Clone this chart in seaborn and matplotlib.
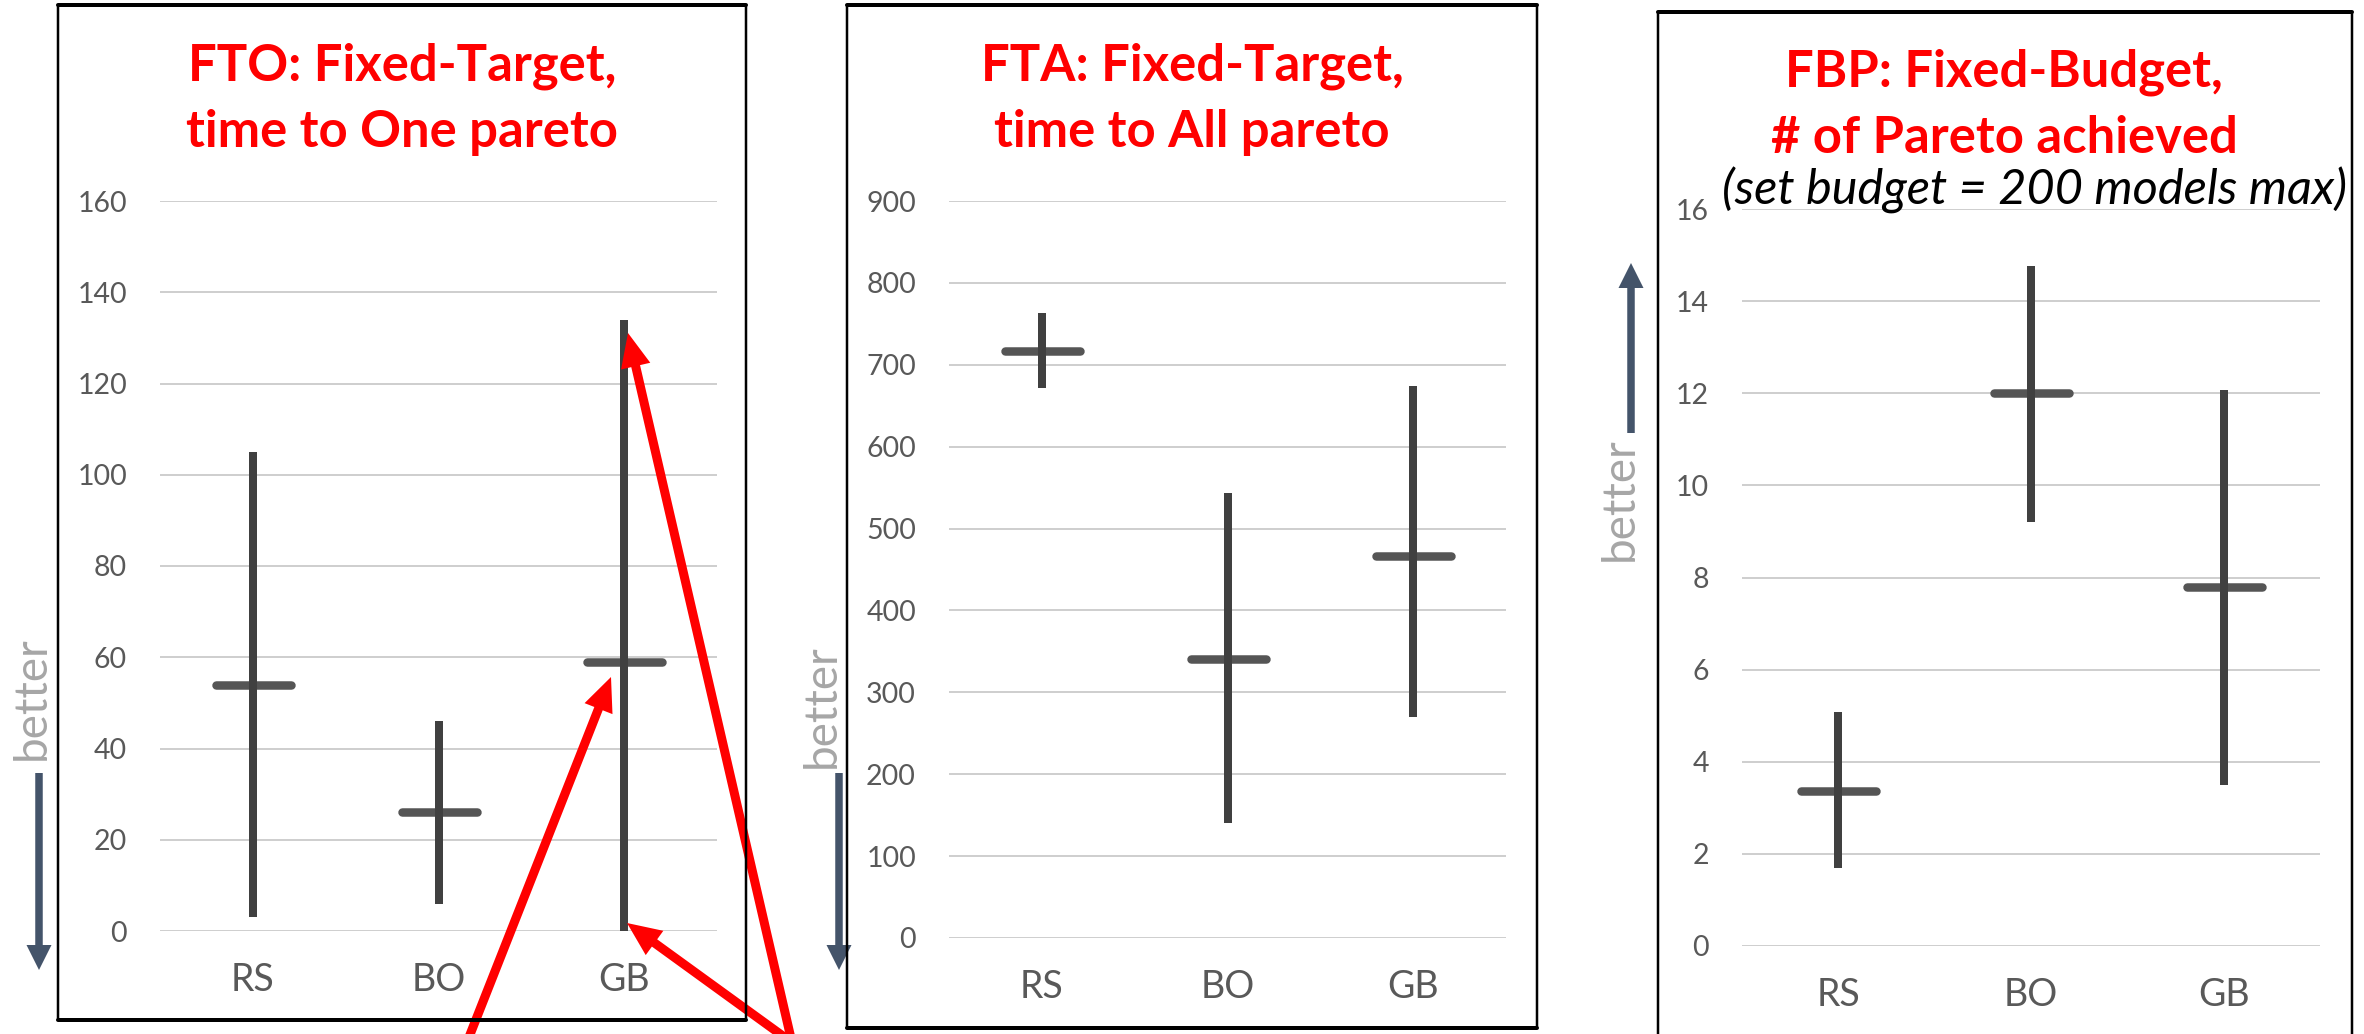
import matplotlib
matplotlib.use("Agg")
import matplotlib.pyplot as plt
import seaborn as sns
import pandas as pd
import numpy as np
from matplotlib.markers import MarkerStyle
from matplotlib.patches import FancyArrow
from matplotlib.lines import Line2D

W, H, DPI = 2364, 1034, 100
PT = 72 / DPI  # points per pixel

# ---- data -------------------------------------------------------------
methods = ["RS", "BO", "GB"]

# FTO: time to first Pareto model (min / median / max)
fto_low = [3, 6, 0]
fto_med = [54, 26, 59]
fto_high = [105, 46, 134]
fto_ticks = [0, 20, 40, 60, 80, 100, 120, 140, 160]

# FTA: time to all Pareto models
fta_low = [672, 141, 270]
fta_med = [717, 341, 467]
fta_high = [763, 544, 674]
fta_ticks = [0, 100, 200, 300, 400, 500, 600, 700, 800, 900]

# FBP: number of Pareto models found within the budget
fbp_low = [1.7, 9.2, 3.5]
fbp_med = [3.37, 12.0, 7.8]
fbp_high = [5.07, 14.77, 12.07]
fbp_ticks = [0, 2, 4, 6, 8, 10, 12, 14, 16]

titles = [
    ["FTO: Fixed-Target,", "time to One pareto"],
    ["FTA: Fixed-Target,", "time to All pareto"],
    ["FBP: Fixed-Budget,", "# of Pareto achieved"],
]
subtitle = "(set budget = 200 models max)"
better_label = "better"

# ---- style ------------------------------------------------------------
sns.set_theme(style="white")
plt.rcParams["font.family"] = ["Lato", "DejaVu Sans"]

fig = plt.figure(figsize=(W / DPI, H / DPI), dpi=DPI)
fig.patch.set_facecolor("white")


def px_axes(left, right, top, bottom):
    return fig.add_axes([left / W, 1 - bottom / H, (right - left) / W, (bottom - top) / H])


BAR = "#404040"
MED = "#555555"
GRID = "#cfcfcf"
TICK = "#595959"


def draw_panel(ax, low, med, high, ticks):
    df = pd.DataFrame({
        "method": np.repeat(methods, 3),
        "value": np.column_stack([low, med, high]).ravel(),
    })
    sns.pointplot(
        data=df, x="method", y="value", order=methods,
        estimator="median", errorbar=("pi", 100),
        linestyle="none", marker=MarkerStyle("_", capstyle="round"),
        markersize=54, markeredgewidth=8.5 * PT, color=MED,
        err_kws={"color": BAR, "linewidth": 8 * PT, "solid_capstyle": "butt"},
        ax=ax,
    )
    for ln in ax.lines:
        ln.set_clip_on(False)
    ax.set_ylim(ticks[0], ticks[-1])
    ax.set_yticks(ticks)
    ax.set_xlim(-0.5, 2.5)
    ax.set_xlabel("")
    ax.set_ylabel("")
    ax.yaxis.grid(True, color=GRID, linewidth=2 * PT, zorder=0)
    ax.xaxis.grid(False)
    ax.set_axisbelow(True)
    for s in ax.spines.values():
        s.set_visible(False)
    ax.set_facecolor("none")
    ax.tick_params(axis="y", length=0, pad=33 * PT, labelsize=20.5, labelcolor=TICK)
    ax.tick_params(axis="x", length=0, pad=22, labelsize=27, labelcolor=TICK)


ax1 = px_axes(160, 717, 201, 931)
draw_panel(ax1, fto_low, fto_med, fto_high, fto_ticks)
ax2 = px_axes(949, 1506, 201, 938)
draw_panel(ax2, fta_low, fta_med, fta_high, fta_ticks)
ax3 = px_axes(1742, 2320, 209, 946)
draw_panel(ax3, fbp_low, fbp_med, fbp_high, fbp_ticks)

# ---- overlay in pixel coordinates -------------------------------------
ov = fig.add_axes([0, 0, 1, 1], zorder=10)
ov.set_xlim(0, W)
ov.set_ylim(H, 0)
ov.axis("off")
ov.patch.set_alpha(0)


def frame(x0, x1, y0, y1, bottom=True):
    side = 2.5 * PT
    tb = 4 * PT
    ov.add_line(Line2D([x0, x0], [y0, y1], color="black", lw=side))
    ov.add_line(Line2D([x1, x1], [y0, y1], color="black", lw=side))
    ov.add_line(Line2D([x0, x1], [y0, y0], color="black", lw=tb))
    if bottom:
        ov.add_line(Line2D([x0, x1], [y1, y1], color="black", lw=tb))


frame(58, 746, 5, 1020)
frame(847, 1537, 5, 1028)
frame(1658, 2352, 12, 1060, bottom=False)

# titles
title_pos = [(402, 80, 147), (1192, 80, 147), (2004, 87, 153)]
for (cx, b1, b2), lines in zip(title_pos, titles):
    for base, line in zip((b1, b2), lines):
        ov.text(cx, base, line, color="#ff0000", fontsize=36.5, fontweight="bold",
                ha="center", va="baseline")
ov.text(2034, 205, subtitle, color="black", fontsize=35, style="italic",
        ha="center", va="baseline")

# "better" direction hints
ARROW = "#44546a"
for tx, ty, x, y0, y1 in [(32, 698, 39, 773, 970), (822, 706, 839, 773, 970),
                          (1620, 499, 1631, 433, 263)]:
    ov.text(tx, ty, better_label, color="#a6a6a6", fontsize=33, rotation=90,
            ha="center", va="center")
    ov.add_patch(FancyArrow(x, y0, 0, y1 - y0, width=7.5, head_width=25, head_length=25,
                            length_includes_head=True, color=ARROW, lw=0))

# red call-out arrows pointing at the GB range
for (x0, y0), (x1, y1) in [((460, 1060), (611, 677)),
                           ((816, 1060), (627, 923)),
                           ((796, 1060), (628, 333))]:
    ov.add_patch(FancyArrow(x0, y0, x1 - x0, y1 - y0, width=9, head_width=30,
                            head_length=34, length_includes_head=True,
                            color="#ff0000", lw=0, clip_on=False))

fig.savefig("out.png", dpi=DPI, facecolor="white")
